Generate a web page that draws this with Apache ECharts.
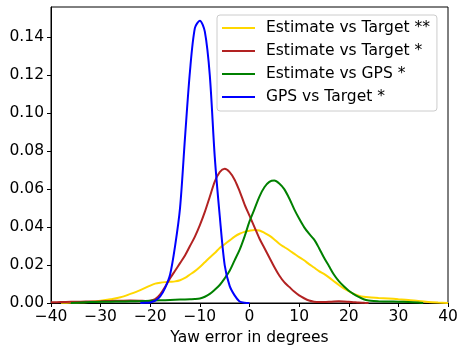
<!DOCTYPE html>
<html>
<head>
<meta charset="utf-8">
<script src="https://cdn.jsdelivr.net/npm/echarts@6/dist/echarts.min.js"></script>
<style>
  html, body { margin: 0; padding: 0; background: #fff; }
  #chart { width: 459px; height: 348px; }
</style>
</head>
<body>
<div id="chart"></div>
<script>
// Kernel density estimates of yaw error (degrees) for four comparisons.
const seriesNames = ['Estimate vs Target **', 'Estimate vs Target *', 'Estimate vs GPS *', 'GPS vs Target *'];

const yellowX = [-38, -36, -34, -32, -30, -28, -26, -24, -22, -20, -19, -18, -17, -16, -15, -14, -13, -12, -11, -10, -9, -8, -7, -6, -5, -4, -3, -2, -1, 0, 1, 2, 3, 4, 5, 6, 7, 8, 9, 10, 11, 12, 13, 14, 15, 16, 17, 18, 19, 20, 21, 22, 23, 24, 26, 28, 30, 32, 34, 36, 38, 40];
const yellowY = [0.0001, 0.0002, 0.0004, 0.0006, 0.0012, 0.0020, 0.0030, 0.0048, 0.0068, 0.0092, 0.0102, 0.0107, 0.0110, 0.0112, 0.0114, 0.0120, 0.0132, 0.0150, 0.0168, 0.0190, 0.0215, 0.0240, 0.0263, 0.0290, 0.0310, 0.0330, 0.0350, 0.0365, 0.0375, 0.0381, 0.0385, 0.0382, 0.0370, 0.0355, 0.0335, 0.0312, 0.0295, 0.0278, 0.0260, 0.0242, 0.0225, 0.0205, 0.0187, 0.0168, 0.0153, 0.0135, 0.0115, 0.0095, 0.0077, 0.0062, 0.0048, 0.0039, 0.0033, 0.0030, 0.0027, 0.0024, 0.0020, 0.0016, 0.0010, 0.0005, 0.0002, 0.0000];

const redX = [-40, -38, -36, -34, -32, -30, -28, -26, -24, -22, -21, -20, -19, -18, -17, -16, -15, -14, -13, -12, -11, -10, -9, -8, -7, -6, -5, -4, -3, -2, -1, 0, 1, 2, 3, 4, 5, 6, 7, 8, 9, 10, 11, 12, 13, 14, 15, 16, 17, 18, 19, 20, 21, 22, 23, 24];
const redY = [0.0004, 0.0005, 0.0006, 0.0007, 0.0008, 0.0009, 0.0011, 0.0012, 0.0013, 0.0012, 0.0011, 0.0012, 0.0020, 0.0045, 0.0085, 0.0130, 0.0170, 0.0210, 0.0250, 0.0300, 0.0350, 0.0410, 0.0480, 0.0560, 0.0640, 0.0690, 0.0707, 0.0690, 0.0650, 0.0590, 0.0520, 0.0460, 0.0400, 0.0340, 0.0290, 0.0240, 0.0190, 0.0145, 0.0110, 0.0085, 0.0060, 0.0040, 0.0025, 0.0013, 0.0007, 0.0005, 0.0005, 0.0006, 0.0008, 0.0009, 0.0008, 0.0006, 0.0004, 0.0002, 0.0001, 0.0000];

const greenX = [-36, -34, -32, -30, -28, -26, -24, -22, -20, -18, -16, -14, -12, -11, -10, -9, -8, -7, -6, -5, -4, -3, -2, -1, 0, 1, 2, 3, 4, 5, 6, 7, 8, 9, 10, 11, 12, 13, 14, 15, 16, 17, 18, 19, 20, 21, 22, 23, 24, 25, 26, 28, 30, 32, 34, 35];
const greenY = [0.0000, 0.0003, 0.0005, 0.0006, 0.0007, 0.0008, 0.0009, 0.0010, 0.0012, 0.0014, 0.0016, 0.0018, 0.0020, 0.0021, 0.0024, 0.0033, 0.0048, 0.0070, 0.0095, 0.0130, 0.0170, 0.0225, 0.0280, 0.0350, 0.0430, 0.0495, 0.0561, 0.0610, 0.0638, 0.0645, 0.0630, 0.0600, 0.0552, 0.0495, 0.0445, 0.0400, 0.0365, 0.0335, 0.0290, 0.0240, 0.0195, 0.0150, 0.0115, 0.0088, 0.0065, 0.0047, 0.0032, 0.0020, 0.0013, 0.0010, 0.0009, 0.0008, 0.0007, 0.0005, 0.0002, 0.0000];

const blueX = [-22, -21, -20, -19, -18, -17, -16, -15, -14, -13, -12, -11, -10, -9, -8, -7, -6, -5, -4, -3, -2, -1, 0];
const blueY = [0.0000, 0.0001, 0.0003, 0.0012, 0.0035, 0.0080, 0.0150, 0.0300, 0.0500, 0.0870, 0.1220, 0.1450, 0.1488, 0.1430, 0.1200, 0.0770, 0.0460, 0.0200, 0.0090, 0.0040, 0.0008, 0.0001, 0.0000];

const xTicks = [-40, -30, -20, -10, 0, 10, 20, 30, 40];
const yTicks = [0, 0.02, 0.04, 0.06, 0.08, 0.10, 0.12, 0.14];

const colors = ['#FFD700', '#B22222', '#008000', '#0000FF'];
const xs = [yellowX, redX, greenX, blueX];
const ys = [yellowY, redY, greenY, blueY];

const FONT = 'DejaVu Sans';
const chart = echarts.init(document.getElementById('chart'), null, { renderer: 'canvas' });

const series = seriesNames.map((name, i) => ({
  name: name,
  type: 'line',
  data: xs[i].map((x, k) => [x, ys[i][k]]),
  smooth: 0.3,
  symbol: 'none',
  showSymbol: false,
  color: colors[i],
  lineStyle: { color: colors[i], width: 2 },
  emphasis: { disabled: true },
  animation: false,
  z: 2 + i
}));

chart.setOption({
  animation: false,
  backgroundColor: '#fff',
  textStyle: { fontFamily: FONT },
  grid: {
    left: 51, right: 11, top: 7, bottom: 45,
    outerBoundsMode: 'none',
    containLabel: false,
    show: true, borderColor: '#000', borderWidth: 1, backgroundColor: 'transparent'
  },
  legend: {
    data: seriesNames,
    orient: 'vertical',
    left: 217, top: 15,
    width: 224,
    padding: [5, 7, 6, 5],
    itemGap: 7,
    itemWidth: 33,
    itemHeight: 2,
    icon: 'rect',
    borderColor: '#cccccc',
    borderWidth: 1,
    borderRadius: 3,
    backgroundColor: 'rgba(255,255,255,0.8)',
    textStyle: { fontFamily: FONT, fontSize: 15.5, color: '#000', lineHeight: 16, padding: [0, 0, 0, 6] }
  },
  xAxis: {
    type: 'value',
    min: -40, max: 40, interval: 10,
    name: 'Yaw error in degrees',
    nameLocation: 'middle',
    nameGap: 26,
    nameTextStyle: { fontFamily: FONT, fontSize: 15.5, color: '#000' },
    splitLine: { show: false },
    axisLine: { show: true, onZero: false, lineStyle: { color: '#000', width: 1 } },
    axisTick: { show: true, inside: false, length: 4, lineStyle: { color: '#000' }, customValues: xTicks },
    axisLabel: {
      fontFamily: FONT, fontSize: 15.5, color: '#000', margin: 6,
      customValues: xTicks,
      formatter: v => String(v).replace('-', '\u2212')
    }
  },
  yAxis: {
    type: 'value',
    min: 0, max: 0.156,
    splitLine: { show: false },
    axisLine: { show: true, onZero: false, lineStyle: { color: '#000', width: 1 } },
    axisTick: { show: true, inside: false, length: 4, lineStyle: { color: '#000' }, customValues: yTicks },
    axisLabel: {
      fontFamily: FONT, fontSize: 15.5, color: '#000', margin: 7,
      customValues: yTicks,
      formatter: v => v.toFixed(2)
    }
  },
  series: series
});
</script>
</body>
</html>
